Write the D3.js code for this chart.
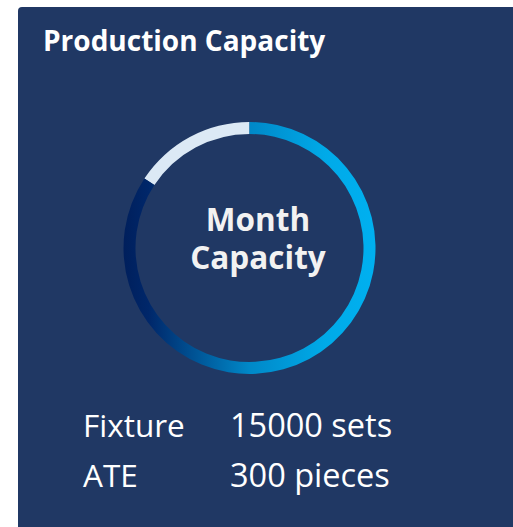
<!DOCTYPE html>
<html>
<head>
<meta charset="utf-8">
<script src="https://cdn.jsdelivr.net/npm/d3@7"></script>
<style>
  html, body { margin: 0; padding: 0; background: #fff; }
  svg { display: block; }
</style>
</head>
<body>
<div id="chart"></div>
<script>
// Chart data
const title = "Production Capacity";
const centerLines = ["Month", "Capacity"];
const filledShare = [0.843];          // share of the ring drawn with the gradient
const specNames = ["Fixture", "ATE"];
const specValues = ["15000 sets", "300 pieces"];

const width = 513, height = 527;
const font = "'Open Sans', 'Noto Sans', sans-serif";

const svg = d3.select("#chart")
    .append("svg")
    .attr("width", width)
    .attr("height", height);

// Panel background
svg.append("path")
    .attr("d", `M18,${7 + 4} Q18,7 ${18 + 4},7 H${width} V${height} H18 Z`)
    .attr("fill", "#203864");

// Title
svg.append("text")
    .attr("x", 43)
    .attr("y", 51)
    .attr("fill", "#ffffff")
    .attr("font-family", font)
    .attr("font-size", "28px")
    .attr("font-weight", "bold")
    .text(title);

// Ring
const cx = 249.5, cy = 248, outerR = 126, innerR = 114;
const ring = svg.append("g").attr("transform", `translate(${cx},${cy})`);

const defs = svg.append("defs");
const grad = defs.append("linearGradient")
    .attr("id", "ring-grad")
    .attr("gradientUnits", "userSpaceOnUse")
    .attr("x1", -outerR).attr("y1", 0)
    .attr("x2", outerR).attr("y2", 0);
grad.append("stop").attr("offset", "0%").attr("stop-color", "#001f5c");
grad.append("stop").attr("offset", "10%").attr("stop-color", "#00276a");
grad.append("stop").attr("offset", "50%").attr("stop-color", "#0088c8");
grad.append("stop").attr("offset", "80%").attr("stop-color", "#00aae8");
grad.append("stop").attr("offset", "100%").attr("stop-color", "#00b0f0");

const angle = d3.scaleLinear().domain([0, 1]).range([0, 2 * Math.PI]);
const arc = d3.arc().innerRadius(innerR).outerRadius(outerR);

// remaining part (pale)
ring.append("path")
    .attr("d", arc({ startAngle: angle(filledShare[0]), endAngle: angle(1) }))
    .attr("fill", "#dce9f5");

// filled part
ring.append("path")
    .attr("d", arc({ startAngle: angle(0), endAngle: angle(filledShare[0]) }))
    .attr("fill", "url(#ring-grad)");

// Center label: one text block, two lines, a little right of the ring centre
const centerText = ring.append("text")
    .attr("class", "center-label")
    .attr("text-anchor", "middle")
    .attr("fill", "#f2f2f2")
    .attr("font-family", font)
    .attr("font-size", "31.5px")
    .attr("font-weight", "bold");

centerText.selectAll("tspan")
    .data(centerLines)
    .enter()
    .append("tspan")
    .attr("x", 8.5)
    .attr("y", (d, i) => -17.5 + i * 38)
    .text(d => d);

// Spec rows
const rowY = d3.scaleBand().domain(specNames).range([400, 500]);

svg.selectAll(".spec-name")
    .data(specNames)
    .enter()
    .append("text")
    .attr("class", "spec-name")
    .attr("x", 83)
    .attr("y", d => rowY(d) + 37)
    .attr("fill", "#ffffff")
    .attr("font-family", font)
    .attr("font-size", "31.5px")
    .text(d => d);

svg.selectAll(".spec-value")
    .data(specValues)
    .enter()
    .append("text")
    .attr("class", "spec-value")
    .attr("x", 230)
    .attr("y", (d, i) => rowY(specNames[i]) + 37)
    .attr("fill", "#ffffff")
    .attr("font-family", font)
    .attr("font-size", "32.5px")
    .text(d => d);
</script>
</body>
</html>
